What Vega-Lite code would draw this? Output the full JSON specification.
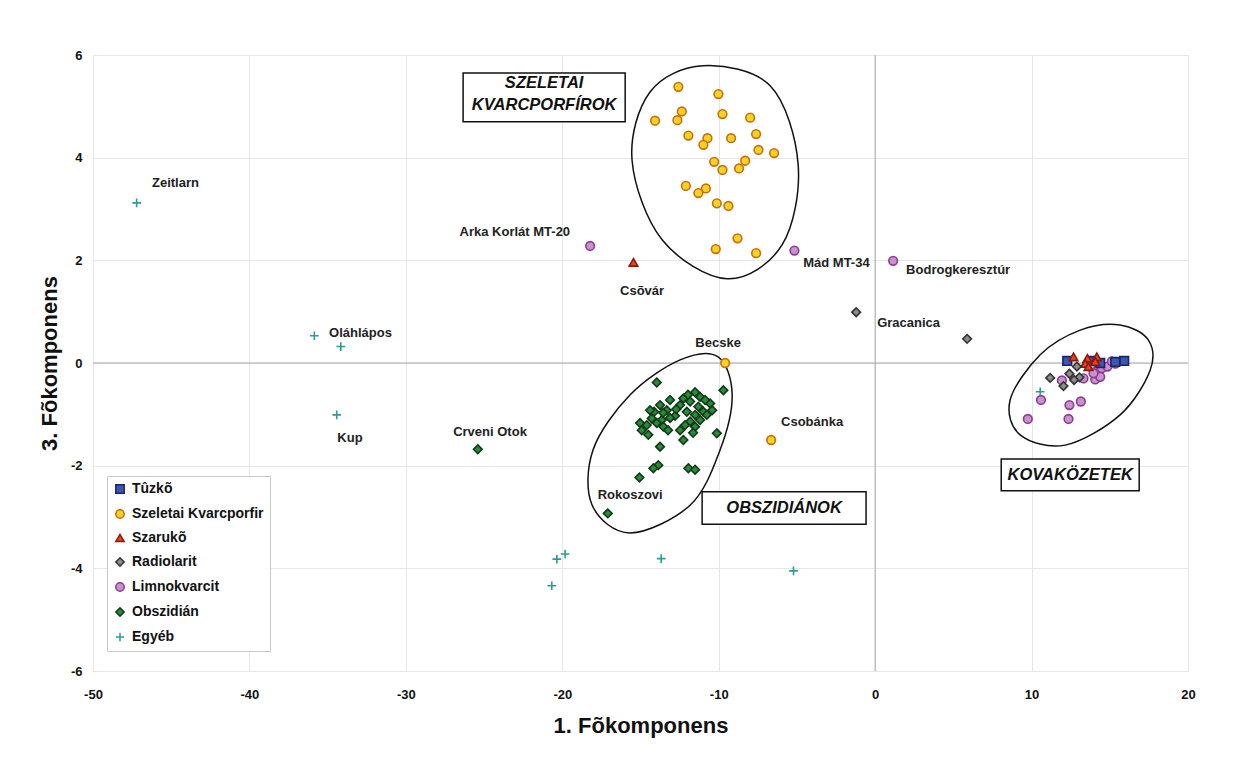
{
  "$schema": "https://vega.github.io/schema/vega-lite/v6.json",
  "autosize": {"type": "none"},
  "width": 1095,
  "height": 616,
  "padding": {"left": 93, "top": 55, "right": 46, "bottom": 89},
  "background": "white",
  "config": {
    "font": "Liberation Sans",
    "view": {"stroke": "#e6e6e6"},
    "legend": {
      "fillColor": "white",
      "strokeColor": "#c8c8c8",
      "padding": 6,
      "labelFont": "Liberation Sans",
      "labelFontWeight": "bold",
      "labelFontSize": 14,
      "labelColor": "#111",
      "labelOffset": 5,
      "rowPadding": 9,
      "symbolSize": 70,
      "symbolStrokeWidth": 1.5
    }
  },
  "datasets": {
    "pts": [
      {"series": "Szeletai Kvarcporfir", "x": -12.58, "y": 5.38},
      {"series": "Szeletai Kvarcporfir", "x": -10.02, "y": 5.24},
      {"series": "Szeletai Kvarcporfir", "x": -12.36, "y": 4.90},
      {"series": "Szeletai Kvarcporfir", "x": -14.07, "y": 4.72},
      {"series": "Szeletai Kvarcporfir", "x": -12.64, "y": 4.73},
      {"series": "Szeletai Kvarcporfir", "x": -9.76, "y": 4.85},
      {"series": "Szeletai Kvarcporfir", "x": -7.99, "y": 4.78},
      {"series": "Szeletai Kvarcporfir", "x": -11.94, "y": 4.43},
      {"series": "Szeletai Kvarcporfir", "x": -10.72, "y": 4.38},
      {"series": "Szeletai Kvarcporfir", "x": -10.98, "y": 4.25},
      {"series": "Szeletai Kvarcporfir", "x": -9.21, "y": 4.38},
      {"series": "Szeletai Kvarcporfir", "x": -7.61, "y": 4.46},
      {"series": "Szeletai Kvarcporfir", "x": -7.46, "y": 4.15},
      {"series": "Szeletai Kvarcporfir", "x": -6.46, "y": 4.09},
      {"series": "Szeletai Kvarcporfir", "x": -8.31, "y": 3.94},
      {"series": "Szeletai Kvarcporfir", "x": -10.29, "y": 3.92},
      {"series": "Szeletai Kvarcporfir", "x": -9.76, "y": 3.76},
      {"series": "Szeletai Kvarcporfir", "x": -8.70, "y": 3.79},
      {"series": "Szeletai Kvarcporfir", "x": -12.10, "y": 3.45},
      {"series": "Szeletai Kvarcporfir", "x": -10.82, "y": 3.40},
      {"series": "Szeletai Kvarcporfir", "x": -11.30, "y": 3.31},
      {"series": "Szeletai Kvarcporfir", "x": -10.12, "y": 3.11},
      {"series": "Szeletai Kvarcporfir", "x": -9.38, "y": 3.06},
      {"series": "Szeletai Kvarcporfir", "x": -8.80, "y": 2.43},
      {"series": "Szeletai Kvarcporfir", "x": -10.19, "y": 2.22},
      {"series": "Szeletai Kvarcporfir", "x": -7.61, "y": 2.14},
      {"series": "Szeletai Kvarcporfir", "x": -9.59, "y": 0.0},
      {"series": "Szeletai Kvarcporfir", "x": -6.65, "y": -1.50},
      {"series": "Limnokvarcit", "x": -18.22, "y": 2.28},
      {"series": "Limnokvarcit", "x": -5.16, "y": 2.19},
      {"series": "Limnokvarcit", "x": 1.15, "y": 1.99},
      {"series": "Limnokvarcit", "x": 11.94, "y": -0.34},
      {"series": "Limnokvarcit", "x": 13.32, "y": -0.30},
      {"series": "Limnokvarcit", "x": 14.07, "y": -0.32},
      {"series": "Limnokvarcit", "x": 14.13, "y": -0.20},
      {"series": "Limnokvarcit", "x": 14.49, "y": -0.10},
      {"series": "Limnokvarcit", "x": 14.85, "y": -0.07},
      {"series": "Limnokvarcit", "x": 15.13, "y": 0.03},
      {"series": "Limnokvarcit", "x": 13.75, "y": -0.07},
      {"series": "Limnokvarcit", "x": 14.39, "y": -0.27},
      {"series": "Limnokvarcit", "x": 10.60, "y": -0.72},
      {"series": "Limnokvarcit", "x": 12.42, "y": -0.82},
      {"series": "Limnokvarcit", "x": 13.15, "y": -0.75},
      {"series": "Limnokvarcit", "x": 9.76, "y": -1.09},
      {"series": "Limnokvarcit", "x": 12.36, "y": -1.09},
      {"series": "Limnokvarcit", "x": 13.96, "y": -0.20},
      {"series": "Limnokvarcit", "x": 15.35, "y": -0.01},
      {"series": "Tûzkõ", "x": 12.28, "y": 0.04},
      {"series": "Tûzkõ", "x": 13.87, "y": 0.04},
      {"series": "Tûzkõ", "x": 15.92, "y": 0.04},
      {"series": "Tûzkõ", "x": 15.35, "y": 0.02},
      {"series": "Tûzkõ", "x": 14.39, "y": 0.0},
      {"series": "Szarukõ", "x": -15.45, "y": 1.96},
      {"series": "Szarukõ", "x": 12.68, "y": 0.12},
      {"series": "Szarukõ", "x": 13.57, "y": 0.09},
      {"series": "Szarukõ", "x": 14.17, "y": 0.12},
      {"series": "Szarukõ", "x": 13.43, "y": -0.01},
      {"series": "Szarukõ", "x": 13.64, "y": -0.07},
      {"series": "Szarukõ", "x": 14.07, "y": 0.03},
      {"series": "Radiolarit", "x": -1.21, "y": 0.99},
      {"series": "Radiolarit", "x": 5.88, "y": 0.47},
      {"series": "Radiolarit", "x": 11.19, "y": -0.29},
      {"series": "Radiolarit", "x": 12.42, "y": -0.21},
      {"series": "Radiolarit", "x": 12.04, "y": -0.45},
      {"series": "Radiolarit", "x": 12.90, "y": -0.07},
      {"series": "Radiolarit", "x": 13.06, "y": -0.28},
      {"series": "Radiolarit", "x": 12.72, "y": -0.33},
      {"series": "Obszidián", "x": -25.40, "y": -1.68},
      {"series": "Obszidián", "x": -17.09, "y": -2.93},
      {"series": "Obszidián", "x": -13.96, "y": -0.38},
      {"series": "Obszidián", "x": -11.51, "y": -0.57},
      {"series": "Obszidián", "x": -9.70, "y": -0.53},
      {"series": "Obszidián", "x": -12.26, "y": -0.69},
      {"series": "Obszidián", "x": -10.55, "y": -0.79},
      {"series": "Obszidián", "x": -13.75, "y": -0.82},
      {"series": "Obszidián", "x": -14.13, "y": -0.95},
      {"series": "Obszidián", "x": -13.32, "y": -0.92},
      {"series": "Obszidián", "x": -12.47, "y": -0.82},
      {"series": "Obszidián", "x": -11.83, "y": -0.75},
      {"series": "Obszidián", "x": -11.30, "y": -0.85},
      {"series": "Obszidián", "x": -10.98, "y": -0.95},
      {"series": "Obszidián", "x": -12.04, "y": -0.95},
      {"series": "Obszidián", "x": -11.51, "y": -1.01},
      {"series": "Obszidián", "x": -14.28, "y": -1.08},
      {"series": "Obszidián", "x": -13.64, "y": -1.11},
      {"series": "Obszidián", "x": -12.79, "y": -1.03},
      {"series": "Obszidián", "x": -11.83, "y": -1.14},
      {"series": "Obszidián", "x": -11.19, "y": -1.11},
      {"series": "Obszidián", "x": -10.76, "y": -1.01},
      {"series": "Obszidián", "x": -15.03, "y": -1.17},
      {"series": "Obszidián", "x": -14.60, "y": -1.21},
      {"series": "Obszidián", "x": -13.96, "y": -1.17},
      {"series": "Obszidián", "x": -13.54, "y": -1.24},
      {"series": "Obszidián", "x": -12.15, "y": -1.21},
      {"series": "Obszidián", "x": -11.51, "y": -1.24},
      {"series": "Obszidián", "x": -14.92, "y": -1.31},
      {"series": "Obszidián", "x": -14.50, "y": -1.40},
      {"series": "Obszidián", "x": -12.47, "y": -1.31},
      {"series": "Obszidián", "x": -10.12, "y": -1.37},
      {"series": "Obszidián", "x": -12.26, "y": -1.50},
      {"series": "Obszidián", "x": -13.75, "y": -1.63},
      {"series": "Obszidián", "x": -13.86, "y": -1.99},
      {"series": "Obszidián", "x": -14.18, "y": -2.05},
      {"series": "Obszidián", "x": -11.94, "y": -2.05},
      {"series": "Obszidián", "x": -11.51, "y": -2.08},
      {"series": "Obszidián", "x": -15.07, "y": -2.23},
      {"series": "Obszidián", "x": -13.11, "y": -0.72},
      {"series": "Obszidián", "x": -12.72, "y": -0.90},
      {"series": "Obszidián", "x": -11.19, "y": -0.66},
      {"series": "Obszidián", "x": -10.87, "y": -0.72},
      {"series": "Obszidián", "x": -13.11, "y": -1.07},
      {"series": "Obszidián", "x": -14.39, "y": -0.92},
      {"series": "Obszidián", "x": -10.42, "y": -0.92},
      {"series": "Obszidián", "x": -11.96, "y": -0.62},
      {"series": "Obszidián", "x": -13.24, "y": -1.31},
      {"series": "Obszidián", "x": -11.64, "y": -1.36},
      {"series": "Obszidián", "x": -13.55, "y": -0.97},
      {"series": "Egyéb", "x": -47.21, "y": 3.12},
      {"series": "Egyéb", "x": -35.85, "y": 0.53},
      {"series": "Egyéb", "x": -34.16, "y": 0.32},
      {"series": "Egyéb", "x": -34.42, "y": -1.01},
      {"series": "Egyéb", "x": -20.35, "y": -3.82},
      {"series": "Egyéb", "x": -19.82, "y": -3.72},
      {"series": "Egyéb", "x": -20.67, "y": -4.34},
      {"series": "Egyéb", "x": -13.68, "y": -3.81},
      {"series": "Egyéb", "x": -5.22, "y": -4.05},
      {"series": "Egyéb", "x": 10.55, "y": -0.56}
    ],
    "ell": [
      {"g": "A", "o": 1, "x": -11.00, "y": 5.79},
      {"g": "A", "o": 2, "x": -6.71, "y": 5.40},
      {"g": "A", "o": 3, "x": -4.92, "y": 3.86},
      {"g": "A", "o": 4, "x": -5.95, "y": 2.30},
      {"g": "A", "o": 5, "x": -9.46, "y": 1.64},
      {"g": "A", "o": 6, "x": -13.62, "y": 2.40},
      {"g": "A", "o": 7, "x": -15.54, "y": 3.95},
      {"g": "A", "o": 8, "x": -14.39, "y": 5.28},
      {"g": "B", "o": 1, "x": -10.04, "y": 0.12},
      {"g": "B", "o": 2, "x": -9.14, "y": -0.62},
      {"g": "B", "o": 3, "x": -9.91, "y": -1.69},
      {"g": "B", "o": 4, "x": -11.83, "y": -2.77},
      {"g": "B", "o": 5, "x": -15.66, "y": -3.31},
      {"g": "B", "o": 6, "x": -18.09, "y": -2.77},
      {"g": "B", "o": 7, "x": -18.03, "y": -1.69},
      {"g": "B", "o": 8, "x": -15.66, "y": -0.62},
      {"g": "B", "o": 9, "x": -12.47, "y": 0.06},
      {"g": "C", "o": 1, "x": 15.66, "y": 0.74},
      {"g": "C", "o": 2, "x": 17.46, "y": 0.45},
      {"g": "C", "o": 3, "x": 17.58, "y": -0.14},
      {"g": "C", "o": 4, "x": 15.66, "y": -1.01},
      {"g": "C", "o": 5, "x": 12.15, "y": -1.60},
      {"g": "C", "o": 6, "x": 9.27, "y": -1.40},
      {"g": "C", "o": 7, "x": 8.63, "y": -0.72},
      {"g": "C", "o": 8, "x": 10.55, "y": 0.16},
      {"g": "C", "o": 9, "x": 13.11, "y": 0.64}
    ],
    "lab": [
      {"t": "Zeitlarn", "x": -46.23, "y": 3.51, "a": "left"},
      {"t": "Arka Korlát MT-20", "x": -19.5, "y": 2.55, "a": "right"},
      {"t": "Csõvár", "x": -14.9, "y": 1.40, "a": "center"},
      {"t": "Mád MT-34", "x": -4.60, "y": 1.95, "a": "left"},
      {"t": "Bodrogkeresztúr", "x": 1.98, "y": 1.81, "a": "left"},
      {"t": "Gracanica", "x": 0.13, "y": 0.78, "a": "left"},
      {"t": "Oláhlápos", "x": -34.91, "y": 0.58, "a": "left"},
      {"t": "Becske", "x": -10.04, "y": 0.39, "a": "center"},
      {"t": "Kup", "x": -33.57, "y": -1.46, "a": "center"},
      {"t": "Crveni Otok", "x": -24.62, "y": -1.34, "a": "center"},
      {"t": "Csobánka", "x": -4.03, "y": -1.15, "a": "center"},
      {"t": "Rokoszovi", "x": -15.66, "y": -2.57, "a": "center"}
    ],
    "box": [
      {"x1": -26.34, "x2": -15.98, "y1": 5.65, "y2": 4.70},
      {"x1": -11.06, "x2": -0.58, "y1": -2.51, "y2": -3.14},
      {"x1": 8.06, "x2": 16.88, "y1": -1.87, "y2": -2.49}
    ],
    "boxtext": [
      {"t": "SZELETAI", "x": -21.16, "y": 5.45},
      {"t": "KVARCPORFÍROK", "x": -21.16, "y": 5.02},
      {"t": "OBSZIDIÁNOK", "x": -5.82, "y": -2.82},
      {"t": "KOVAKÖZETEK", "x": 12.47, "y": -2.18}
    ]
  },
  "encoding": {
    "x": {
      "field": "x", "type": "quantitative",
      "scale": {"domain": [-50, 20], "nice": false, "zero": false},
      "axis": {
        "values": [-50, -40, -30, -20, -10, 0, 10, 20],
        "labelExpr": "datum.value < 0 ? '-' + abs(datum.value) : '' + datum.value",
        "title": "1. Fõkomponens",
        "titleFont": "Liberation Sans", "titleFontSize": 22, "titleFontWeight": "bold", "titleColor": "#111",
        "titlePadding": 14,
        "labelFont": "Liberation Sans", "labelFontSize": 13, "labelFontWeight": "bold", "labelColor": "#111",
        "labelPadding": 17, "ticks": false, "domain": false,
        "gridColor": "#e6e6e6", "labelFlush": false
      }
    },
    "y": {
      "field": "y", "type": "quantitative",
      "scale": {"domain": [-6, 6], "nice": false, "zero": false},
      "axis": {
        "values": [-6, -4, -2, 0, 2, 4, 6],
        "labelExpr": "datum.value < 0 ? '-' + abs(datum.value) : '' + datum.value",
        "title": "3. Fõkomponens",
        "titleFont": "Liberation Sans", "titleFontSize": 22, "titleFontWeight": "bold", "titleColor": "#111",
        "titlePadding": 9,
        "labelFont": "Liberation Sans", "labelFontSize": 13, "labelFontWeight": "bold", "labelColor": "#111",
        "labelPadding": 11, "ticks": false, "domain": false,
        "gridColor": "#e6e6e6", "labelFlush": false
      }
    }
  },
  "layer": [
    {
      "data": {"values": [{"x": 0}]},
      "mark": {"type": "rule", "color": "#a8a8a8", "strokeWidth": 1},
      "encoding": {"y": null}
    },
    {
      "data": {"values": [{"y": 0}]},
      "mark": {"type": "rule", "color": "#a8a8a8", "strokeWidth": 1},
      "encoding": {"x": null}
    },
    {
      "data": {"name": "ell"},
      "mark": {"type": "line", "interpolate": "cardinal-closed", "color": "#111", "strokeWidth": 1.5},
      "encoding": {
        "detail": {"field": "g"},
        "order": {"field": "o", "type": "quantitative"}
      }
    },
    {
      "data": {"name": "pts"},
      "mark": {"type": "point", "filled": false, "opacity": 1, "strokeWidth": 1.6, "size": 75},
      "encoding": {
        "shape": {
          "field": "series", "type": "nominal",
          "scale": {
            "domain": ["Tûzkõ", "Szeletai Kvarcporfir", "Szarukõ", "Radiolarit", "Limnokvarcit", "Obszidián", "Egyéb"],
            "range": ["square", "circle", "triangle-up", "diamond", "circle", "diamond", "M-1,0H1M0,-1V1"]
          },
          "legend": {"title": null, "orient": "none", "legendX": 14, "legendY": 421}
        },
        "fill": {
          "field": "series", "type": "nominal",
          "scale": {
            "domain": ["Tûzkõ", "Szeletai Kvarcporfir", "Szarukõ", "Radiolarit", "Limnokvarcit", "Obszidián", "Egyéb"],
            "range": ["#3b57b3", "#ffd21f", "#e0472a", "#8c8c8c", "#cc8fd0", "#2a8a3c", "transparent"]
          },
          "legend": {"title": null, "orient": "none", "legendX": 14, "legendY": 421}
        },
        "stroke": {
          "field": "series", "type": "nominal",
          "scale": {
            "domain": ["Tûzkõ", "Szeletai Kvarcporfir", "Szarukõ", "Radiolarit", "Limnokvarcit", "Obszidián", "Egyéb"],
            "range": ["#1a2466", "#c46f14", "#8b1a0a", "#333333", "#8a3d8e", "#0f3a15", "#2a9a9a"]
          },
          "legend": {"title": null, "orient": "none", "legendX": 14, "legendY": 421}
        }
      }
    },
    {
      "data": {"name": "lab"},
      "transform": [{"filter": "datum.a == 'left'"}],
      "mark": {"type": "text", "font": "Liberation Sans", "fontSize": 13, "fontWeight": "bold", "color": "#222", "baseline": "middle", "align": "left"},
      "encoding": {"text": {"field": "t"}}
    },
    {
      "data": {"name": "lab"},
      "transform": [{"filter": "datum.a == 'right'"}],
      "mark": {"type": "text", "font": "Liberation Sans", "fontSize": 13, "fontWeight": "bold", "color": "#222", "baseline": "middle", "align": "right"},
      "encoding": {"text": {"field": "t"}}
    },
    {
      "data": {"name": "lab"},
      "transform": [{"filter": "datum.a == 'center'"}],
      "mark": {"type": "text", "font": "Liberation Sans", "fontSize": 13, "fontWeight": "bold", "color": "#222", "baseline": "middle", "align": "center"},
      "encoding": {"text": {"field": "t"}}
    },
    {
      "data": {"name": "box"},
      "mark": {"type": "rect", "fill": "white", "stroke": "#111", "strokeWidth": 1.5},
      "encoding": {
        "x": {"field": "x1", "type": "quantitative"},
        "x2": {"field": "x2"},
        "y": {"field": "y1", "type": "quantitative"},
        "y2": {"field": "y2"}
      }
    },
    {
      "data": {"name": "boxtext"},
      "mark": {"type": "text", "font": "Liberation Sans", "fontSize": 16.5, "fontWeight": "bold", "fontStyle": "italic", "color": "#111", "baseline": "middle", "align": "center"},
      "encoding": {"text": {"field": "t"}}
    }
  ]
}
